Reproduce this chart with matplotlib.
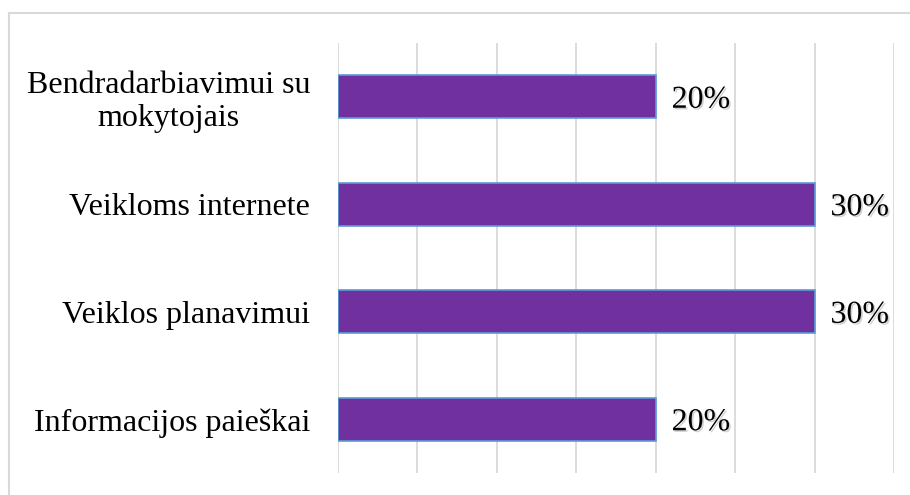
import matplotlib.pyplot as plt
import matplotlib.patheffects as pe
from matplotlib.lines import Line2D

# Duomenys
kategorijos = ['Informacijos paieškai', 'Veiklos planavimui',
               'Veikloms internete', 'Bendradarbiavimui su\nmokytojais']
reiksmes = [20, 30, 30, 20]

plt.rcParams['font.family'] = ['Liberation Serif', 'DejaVu Serif']

fig = plt.figure(figsize=(9.1, 4.95), dpi=100)
ax = fig.add_axes([338 / 910, 1 - 473 / 495, (894 - 338) / 910, (473 - 43) / 495])

bars = ax.barh(range(len(kategorijos)), reiksmes, height=0.4,
               color='#7030A0', edgecolor='#5B9BD5', linewidth=1.2, zorder=3)

for b, v in zip(bars, reiksmes):
    t = ax.text(b.get_width() + 1.0, b.get_y() + b.get_height() / 2, f'{v}%',
                va='center_baseline', ha='left', fontsize=23, color='black')
    t.set_path_effects([pe.SimplePatchShadow(offset=(1.2, -1.2), alpha=0.35, shadow_rgbFace='gray'),
                        pe.Normal()])

ax.set_xlim(0, 35)
ax.set_ylim(-0.5, len(kategorijos) - 0.5)
ax.set_xticks(range(0, 36, 5))
ax.set_xticklabels([])
ax.tick_params(axis='x', length=0)
ax.tick_params(axis='y', length=0, pad=20)
ax.set_yticks(range(len(kategorijos)))
ax.set_yticklabels(kategorijos, fontsize=23, multialignment='center', linespacing=1.15)
ax.grid(axis='x', color='#D9D9D9', linewidth=1.3, zorder=0)
for s in ax.spines.values():
    s.set_visible(False)

# rėmelis
fig.add_artist(Line2D([9 / 910, 9 / 910], [0, 1 - 13 / 495], color='#D9D9D9', linewidth=1.5))
fig.add_artist(Line2D([9 / 910, 1], [1 - 13 / 495, 1 - 13 / 495], color='#D9D9D9', linewidth=1.5))

fig.savefig('out.png', dpi=100)
